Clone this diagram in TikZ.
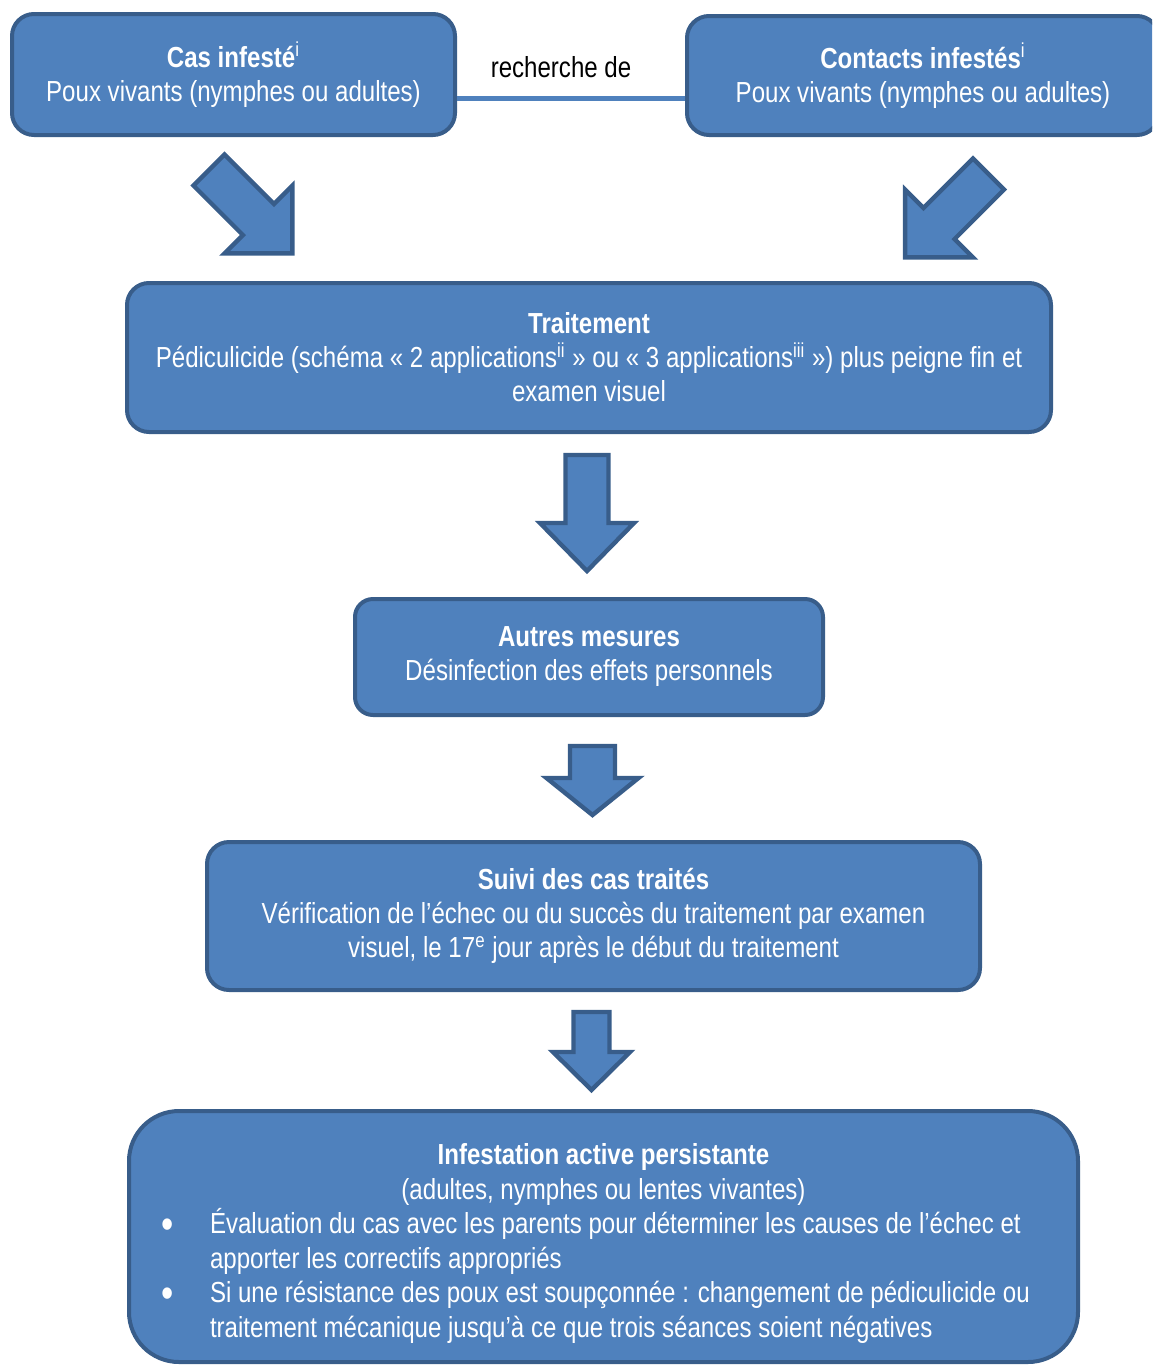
\documentclass[tikz,border=0pt]{standalone}
\usepackage{fontspec}
\setmainfont{Liberation Sans}[FakeStretch=0.83]
\usetikzlibrary{positioning}
\definecolor{boxblue}{HTML}{4F81BD}
\definecolor{boxedge}{HTML}{385D8A}

\tikzset{
    pics/blockarrow/.style args={#1/#2/#3/#4}{code={
        \draw[line width=2.2pt, draw=boxedge, fill=boxblue]
            (-#2,0) -- (#2,0) -- (#2,#1-#4) -- (#3,#1-#4) -- (0,#1)
            -- (-#3,#1-#4) -- (-#2,#1-#4) -- cycle;
    }}
}
\newcommand{\itembullet}{\makebox[35.75pt][l]{\hspace{11.5pt}\raisebox{-2.2pt}{\fontsize{21}{17}\selectfont\textbullet}}}

\begin{document}
\begin{tikzpicture}[x=0.5pt, y=-0.5pt,
    box/.style={draw=boxedge, fill=boxblue, line width=2pt, rounded corners=11pt,
        text=white, align=center, inner sep=0pt,
        font=\fontsize{14.5}{17}\selectfont},
    link/.style={draw=boxblue, line width=2.5pt}]
    \useasboundingbox (0,0) rectangle (1152,1366);
    \clip (0,0) rectangle (1152,1366);

    % Top boxes
    \node (cas) [box, minimum width=221.5pt, minimum height=60.5pt] at (233.5,74.5)
        {\textbf{Cas infesté}\textsuperscript{i}\\Poux vivants (nymphes ou adultes)};
    \node (contacts) [box, minimum width=236pt, minimum height=59.5pt] at (923,75.5)
        {\textbf{Contacts infestés}\textsuperscript{i}\\Poux vivants (nymphes ou adultes)};

    % Link between cases and contacts
    \draw[link] (cas.east |- 0,98) -- (contacts.west |- 0,98)
        node[pos=0.5, anchor=base, yshift=10.5pt, xshift=-5pt, text=black,
             font=\fontsize{14.5}{17}\selectfont] {recherche de};

    % Treatment and follow-up
    \node (traitement) [box, minimum width=462pt, minimum height=74.5pt] at (589,357.5)
        {\textbf{Traitement}\\Pédiculicide (schéma « 2 applications\textsuperscript{ii} » ou « 3 applications\textsuperscript{iii} ») plus peigne fin et\\examen visuel};
    \node (mesures) [box, minimum width=234pt, minimum height=58pt, rounded corners=9pt] at (589,657)
        {\textbf{Autres mesures}\\Désinfection des effets personnels};
    \node (suivi) [box, minimum width=386.5pt, minimum height=74pt] at (593.5,916)
        {\textbf{Suivi des cas traités}\\Vérification de l’échec ou du succès du traitement par examen\\visuel, le 17\textsuperscript{e} jour après le début du traitement};

    % Persistent infestation
    \node (persist) [box, minimum width=474.5pt, minimum height=125.5pt, rounded corners=25pt]
        at (603.5,1236.5)
        {\parbox{465pt}{\fontsize{14.5}{17.3}\selectfont\raggedright\parindent=0pt\vspace*{7pt}%
         {\centering\textbf{Infestation active persistante}\\(adultes, nymphes ou lentes vivantes)\par}
         \hangindent=35.75pt\hangafter=1\noindent\itembullet Évaluation du cas avec les parents pour déterminer les causes de l’échec et\newline apporter les correctifs appropriés\par
         \hangindent=35.75pt\hangafter=1\noindent\itembullet Si une résistance des poux est soupçonnée : changement de pédiculicide ou\newline traitement mécanique jusqu’à ce que trois séances soient négatives\par}};

    % Block arrows
    \pic[rotate=45] at (209,170) {blockarrow=118/22/48/48};
    \pic[rotate=-45] at (988.5,174) {blockarrow=118/22/48/48};
    \pic at (587,455) {blockarrow=116/21.5/47/48};
    \pic at (592.5,746) {blockarrow=69/22.5/46/37};
    \pic at (591.5,1012) {blockarrow=78/18/38.5/38};
\end{tikzpicture}
\end{document}
